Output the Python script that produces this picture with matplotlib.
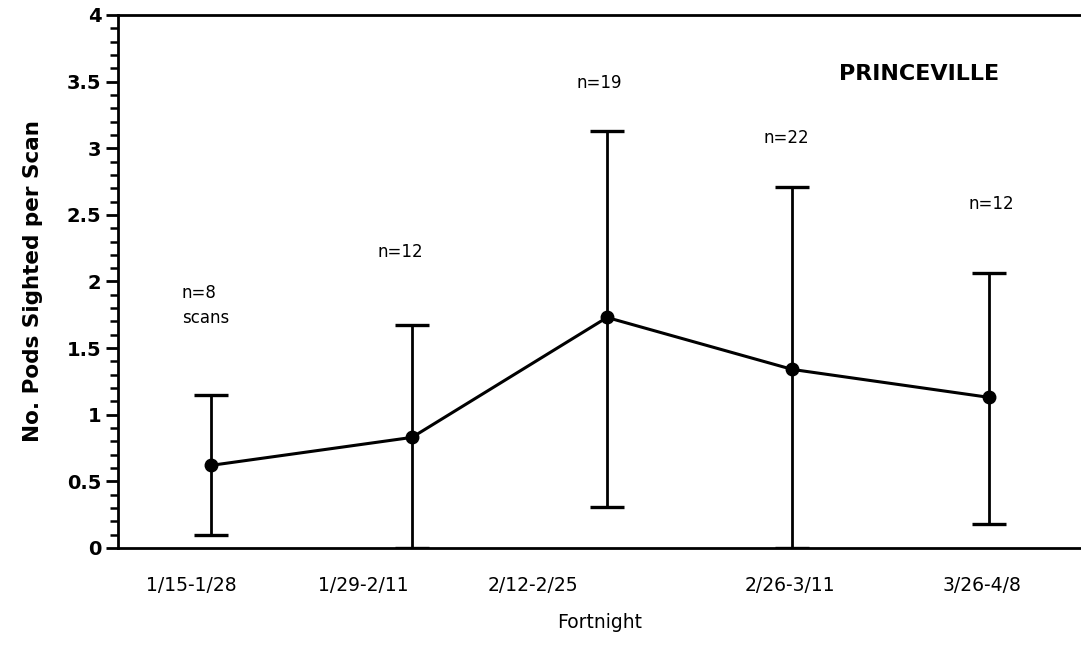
import numpy as np
import matplotlib
matplotlib.use('Agg')
import matplotlib.pyplot as plt
from matplotlib.ticker import MultipleLocator

plt.rcParams['font.family'] = ['DejaVu Sans']

# fortnight data
fortnights = ['1/15-1/28', '1/29-2/11', '2/12-2/25', '2/26-3/11', '3/26-4/8']
label_pos = [0.90, 1.78, 2.65, 3.97, 4.95]
point_pos = [1.0, 2.03, 3.03, 3.98, 4.99]
mean_pods = [0.62, 0.83, 1.73, 1.34, 1.13]
err_upper = [1.15, 1.67, 3.13, 2.71, 2.06]
err_lower = [0.10, 0.0, 0.31, 0.0, 0.18]
n_scans = ['n=8\nscans', 'n=12', 'n=19', 'n=22', 'n=12']
n_xy = [(0.85, 1.82), (1.97, 2.22), (2.99, 3.49), (3.95, 3.08), (5.0, 2.58)]

mean_arr = np.array(mean_pods)
yerr = [mean_arr - np.array(err_lower), np.array(err_upper) - mean_arr]

fig = plt.figure(figsize=(10.81, 6.66), dpi=100)
ax = fig.add_axes([0.1092, 0.1772, 0.8908, 0.8003])

ax.errorbar(point_pos, mean_pods, yerr=yerr, color='black', lw=2.2,
            marker='o', ms=9, capsize=12, capthick=2.4, elinewidth=2.0)

ax.set_xlim(0.523, 5.46)
ax.set_ylim(0, 4)
ax.spines['right'].set_visible(False)
for s in ['left', 'bottom', 'top']:
    ax.spines[s].set_linewidth(2.0)

ax.yaxis.set_minor_locator(MultipleLocator(0.1))
ax.set_yticks(np.arange(0, 4.01, 0.5))
ax.set_yticklabels(['0', '0.5', '1', '1.5', '2', '2.5', '3', '3.5', '4'],
                   fontsize=14, fontweight='bold')
ax.tick_params(axis='y', which='major', direction='out', length=9, width=2, pad=3)
ax.tick_params(axis='y', which='minor', direction='out', length=5.5, width=1.8)

ax.set_xticks(label_pos)
ax.set_xticklabels(fortnights, fontsize=13.5)
ax.tick_params(axis='x', length=0, pad=20)

ax.set_xlabel('Fortnight', fontsize=13.5, labelpad=13)
ax.set_ylabel('No. Pods Sighted per Scan', fontsize=15.5, fontweight='bold', labelpad=17)

for txt, (tx, ty) in zip(n_scans, n_xy):
    if '\n' in txt:
        ax.text(tx, ty, txt, fontsize=12, ha='left', va='center', linespacing=1.5)
    else:
        ax.text(tx, ty, txt, fontsize=12, ha='center', va='center')

ax.text(4.63, 3.56, 'PRINCEVILLE', fontsize=16, fontweight='bold', ha='center', va='center')

fig.savefig('out.png', dpi=100)
